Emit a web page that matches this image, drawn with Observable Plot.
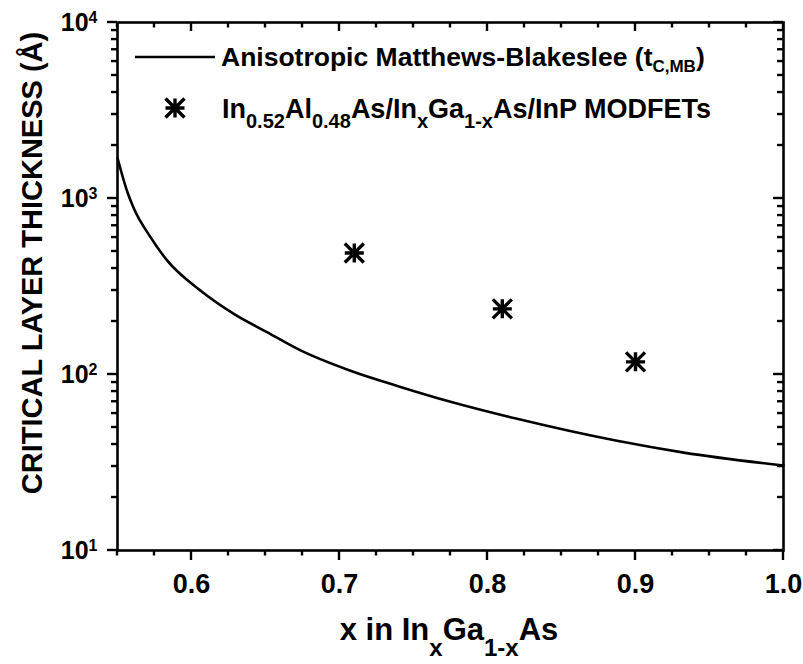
<!DOCTYPE html>
<html><head><meta charset="utf-8">
<script src="https://cdn.jsdelivr.net/npm/d3@7"></script>
<script src="https://cdn.jsdelivr.net/npm/@observablehq/plot@0.6"></script>
<style>body{margin:0;background:#fff;}</style>
</head><body><div id="chart"></div>
<script>
// Anisotropic Matthews-Blakeslee critical thickness curve
const curveX = [0.55, 0.5565, 0.561, 0.5723, 0.5835, 0.606, 0.6286, 0.651, 0.6737, 0.7074, 0.7412, 0.775, 0.82, 0.8875, 0.9326, 1.0];
const curveY = [1700, 1100, 880, 603, 445, 300, 221, 174, 137, 105, 85, 70, 56, 42, 36, 30.4];
// MODFET data points
const pointX = [0.71, 0.81, 0.90];
const pointY = [490, 236, 118];
// ticks
const xMajorTicks = [0.6, 0.7, 0.8, 0.9, 1.0];
const xMinorTicks = [0.55, 0.575, 0.625, 0.65, 0.675, 0.725, 0.75, 0.775, 0.825, 0.85, 0.875, 0.925, 0.95, 0.975];
const yMajorTicks = [10, 100, 1000, 10000];
const yMinorTicks = [20, 30, 40, 50, 60, 70, 80, 90, 200, 300, 400, 500, 600, 700, 800, 900, 2000, 3000, 4000, 5000, 6000, 7000, 8000, 9000];
const yExponents = {10: "1", 100: "2", 1000: "3", 10000: "4"};
// texts
const xLabelParts = [["x in In", ""], ["x", "sub"], ["Ga", ""], ["1-x", "sub"], ["As", ""]];
const yLabel = "CRITICAL LAYER THICKNESS (Å)";
const legend1Parts = [["Anisotropic Matthews-Blakeslee (t", ""], ["C,MB", "sub"], [")", ""]];
const legend2Parts = [["In", ""], ["0.52", "sub"], ["Al", ""], ["0.48", "sub"], ["As/In", ""], ["x", "sub"], ["Ga", ""], ["1-x", "sub"], ["As/InP MODFETs", ""]];

const curve = curveX.map((x, i) => ({x, y: curveY[i]}));
const points = pointX.map((x, i) => ({x, y: pointY[i]}));

const W = 803, H = 664, mL = 117, mR = 20, mT = 22, mB = 114;

const star8 = {
  draw(ctx, size) {
    const r = Math.sqrt(size / Math.PI);
    ctx.moveTo(0, -r); ctx.lineTo(0, r);
    ctx.moveTo(-r, 0); ctx.lineTo(r, 0);
    ctx.moveTo(-r, -r); ctx.lineTo(r, r);
    ctx.moveTo(-r, r); ctx.lineTo(r, -r);
  }
};

const font = "'Liberation Sans', Arial, Helvetica, sans-serif";

const svg = Plot.plot({
  width: W, height: H,
  marginLeft: mL, marginRight: mR, marginTop: mT, marginBottom: mB,
  style: {fontFamily: font, fontWeight: "bold", background: "#fff", color: "#000"},
  x: {type: "linear", domain: [0.55, 1.0]},
  y: {type: "log", domain: [10, 10000]},
  marks: [
    Plot.axisX({ticks: xMajorTicks, tickSize: 0, tickPadding: 23, tickFormat: d3.format(".1f"), fontSize: 27, label: null}),
    Plot.axisY({ticks: yMajorTicks, tickSize: 0, tickPadding: 20, tickFormat: d => "10^" + yExponents[d], fontSize: 25, label: null}),
    Plot.frame({stroke: "#000", strokeWidth: 2.6}),
    Plot.line(curve, {x: "x", y: "y", curve: "monotone-x", stroke: "#000", strokeWidth: 2.6}),
    Plot.dot(points, {x: "x", y: "y", symbol: star8, r: 9.5, fill: "none", stroke: "#000", strokeWidth: 3.4})
  ]
});

const s = d3.select(svg);

// tick marks positioned with the plot's own scales, drawn as small filled rects
const xs = svg.scale("x"), ys = svg.scale("y");
const xFallback = d3.scaleLinear([0.55, 1.0], [mL, W - mR]);
const yFallback = d3.scaleLog([10, 10000], [H - mB, mT]);
const px = v => { const p = xs && xs.apply ? xs.apply(v) : NaN; return Number.isFinite(p) ? p : xFallback(v); };
const py = v => { const p = ys && ys.apply ? ys.apply(v) : NaN; return Number.isFinite(p) ? p : yFallback(v); };
const pTop = mT, pBottom = H - mB, pLeft = mL, pRight = W - mR;
const TW = 2.4;
const tg = s.append("g").attr("fill", "#000").attr("stroke", "none");
function vTick(x, y0, len) { // vertical tick starting at y0, len can be negative
  tg.append("rect").attr("x", x - TW / 2).attr("y", Math.min(y0, y0 + len)).attr("width", TW).attr("height", Math.abs(len)).attr("fill", "#000");
}
function hTick(y, x0, len) {
  tg.append("rect").attr("x", Math.min(x0, x0 + len)).attr("y", y - TW / 2).attr("width", Math.abs(len)).attr("height", TW).attr("fill", "#000");
}
xMajorTicks.forEach(v => { const x = px(v); vTick(x, pBottom, 10); vTick(x, pTop, 9); });
xMinorTicks.forEach(v => { const x = px(v); vTick(x, pBottom, 5.5); vTick(x, pTop, 5.5); });
yMajorTicks.forEach(v => { const y = py(v); hTick(y, pLeft, -10); hTick(y, pRight, -10); });
yMinorTicks.forEach(v => { const y = py(v); hTick(y, pLeft, -6); hTick(y, pRight, -6); });

// superscripts on y tick labels
s.selectAll('g[aria-label="y-axis tick label"] text').each(function() {
  const t = d3.select(this);
  const txt = t.text();
  if (!txt.includes("^")) return;
  const exp = txt.split("^")[1];
  t.text("");
  t.append("tspan").text("10");
  t.append("tspan").attr("font-size", 16).attr("dy", "-0.5em").text(exp);
});

function richText(parent, parts, x, y, size, subSize, subDy, anchor) {
  const t = parent.append("text").attr("x", x).attr("y", y)
    .attr("font-size", size).attr("font-family", font).attr("font-weight", "bold")
    .attr("fill", "#000").attr("text-anchor", anchor || "start");
  let prev = "";
  parts.forEach(([str, kind]) => {
    const sp = t.append("tspan").text(str);
    if (kind === "sub") {
      sp.attr("font-size", subSize).attr("dy", prev === "sub" ? 0 : subDy);
    } else {
      sp.attr("dy", prev === "sub" ? -subDy : 0);
    }
    prev = kind === "sub" ? "sub" : "";
  });
  return t;
}

// legend
s.append("line").attr("x1", 135).attr("x2", 215).attr("y1", 57).attr("y2", 57)
  .attr("stroke", "#000").attr("stroke-width", 2.6);
richText(s, legend1Parts, 221, 66, 26.5, 17, 6);
s.append("path").attr("transform", "translate(175,108)")
  .attr("d", (() => { const p = d3.path(); star8.draw(p, 9.5 * 9.5 * Math.PI); return p.toString(); })())
  .attr("fill", "none").attr("stroke", "#000").attr("stroke-width", 3.4);
richText(s, legend2Parts, 222, 118, 27, 20, 10);

// axis labels
richText(s, xLabelParts, 449, 640, 31, 24, 16, "middle");
s.append("text").attr("transform", "translate(42,263) rotate(-90)")
  .attr("text-anchor", "middle").attr("font-size", 29).attr("font-family", font)
  .attr("font-weight", "bold").attr("fill", "#000").text(yLabel);

document.getElementById("chart").appendChild(svg);
</script>
</body></html>
